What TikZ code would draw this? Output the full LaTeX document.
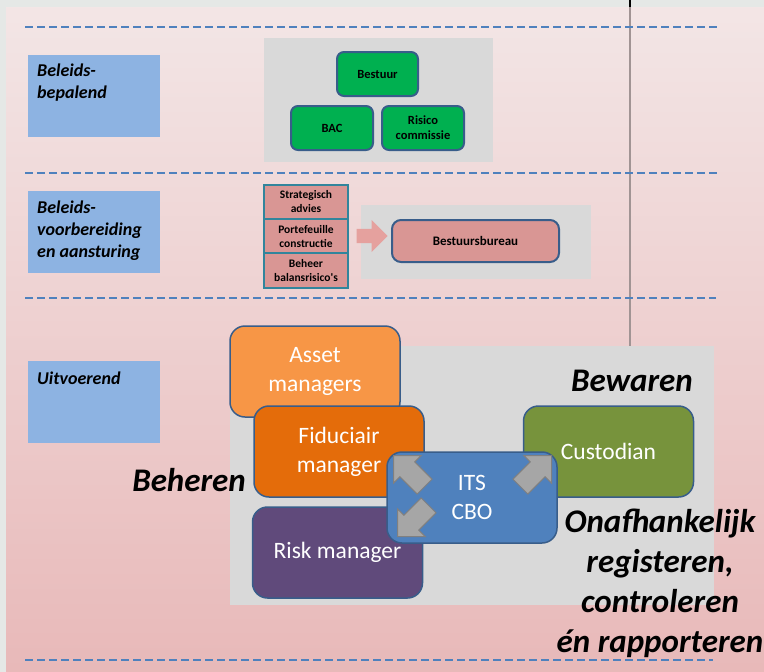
\documentclass[tikz,border=0pt]{standalone}
\usepackage{fontspec}
\setmainfont{Carlito}
\usetikzlibrary{positioning}
\usetikzlibrary{shapes.arrows}
\definecolor{bgtop}{rgb}{0.953, 0.902, 0.902}
\definecolor{bgbot}{rgb}{0.910, 0.725, 0.725}
\definecolor{stripgray}{rgb}{0.898, 0.910, 0.902}
\definecolor{lblue}{rgb}{0.553, 0.702, 0.886}
\definecolor{panelgray}{rgb}{0.851, 0.851, 0.851}
\definecolor{sepblue}{rgb}{0.31, 0.506, 0.741}
\definecolor{boxborder}{rgb}{0.22, 0.365, 0.541}
\definecolor{mgreen}{rgb}{0.0, 0.69, 0.314}
\definecolor{mpink}{rgb}{0.851, 0.588, 0.58}
\definecolor{mteal}{rgb}{0.192, 0.522, 0.612}
\definecolor{morange}{rgb}{0.969, 0.588, 0.275}
\definecolor{mdorange}{rgb}{0.894, 0.424, 0.039}
\definecolor{mpurple}{rgb}{0.376, 0.29, 0.482}
\definecolor{molive}{rgb}{0.467, 0.576, 0.235}
\definecolor{mblue}{rgb}{0.31, 0.506, 0.741}
\definecolor{vline}{rgb}{0.63, 0.58, 0.58}
\definecolor{arrowpink}{rgb}{0.90, 0.63, 0.62}
\tikzset{labelbox/.style = {fill=lblue, minimum width=132pt, minimum height=82pt,
                            anchor=north west, inner sep=0pt}}
\tikzset{labeltext/.style = {font=\fontsize{18}{22}\selectfont\bfseries\itshape,
                             align=left, anchor=north west, inner sep=0pt}}
\tikzset{panel/.style = {fill=panelgray, anchor=north west, inner sep=0pt}}
\tikzset{smallbox/.style = {draw=boxborder, line width=2pt, rounded corners=7pt,
                            font=\fontsize{12.5}{15}\selectfont\bfseries,
                            align=center, inner sep=0pt}}
\tikzset{stackbox/.style = {fill=mpink, draw=mteal, line width=2pt, outer sep=0pt,
                            minimum width=84pt, minimum height=34.3pt,
                            font=\fontsize{11.5}{14}\selectfont\bfseries,
                            align=center, inner sep=0pt}}
\tikzset{bigbox/.style = {draw=boxborder, line width=1.5pt, rounded corners=15pt,
                          text=white, font=\fontsize{23.5}{29}\selectfont, align=center,
                          minimum width=170pt, minimum height=91pt, inner sep=0pt}}
\tikzset{grayarrow/.style = {single arrow, fill=black!35, draw=black!50, line width=1pt,
                             inner sep=10pt, single arrow head extend=9pt,
                             minimum height=44pt, anchor=tip}}
\tikzset{sepline/.style = {draw=sepblue, line width=2pt, dash pattern=on 8pt off 4pt}}
\tikzset{bigword/.style = {font=\fontsize{33}{40}\selectfont\bfseries\itshape,
                           align=center, inner sep=0pt}}

\begin{document}
\begin{tikzpicture}[x=1pt, y=-1pt]
  \useasboundingbox (0,0) rectangle (764,672);
  \shade [top color=bgtop, bottom color=bgbot] (0,0) rectangle (764,672);
  \fill [stripgray] (0,0) rectangle (764,7);
  \fill [stripgray] (0,7) rectangle (6,672);
  \draw [vline, line width=1.3pt] (630,7) -- (630,347);
  \draw [black, line width=1.3pt] (630,0) -- (630,7);

  \draw [sepline] (25,27) -- (717,27);
  \draw [sepline] (25,173) -- (717,173);
  \draw [sepline] (25,298) -- (716,298);
  \draw [sepline] (25,660) -- (713,660);

  \node [labelbox] (polbox) at (28,55) {};
  \node [labeltext] (poltext) at ([xshift=9pt, yshift=-9pt] polbox.north west) {Beleids-\\bepalend};
  \node [labelbox] (prepbox) at (28,191) {};
  \node [labeltext] (preptext) at ([xshift=9pt, yshift=-10pt] prepbox.north west) {Beleids-\\voorbereiding\\en aansturing};
  \node [labelbox] (execbox) at (28,361) {};
  \node [labeltext] (exectext) at ([xshift=9pt, yshift=-11pt] execbox.north west) {Uitvoerend};

  \node [panel, minimum width=229pt, minimum height=124pt] (toppanel) at (264,38) {};
  \node [smallbox, fill=mgreen, minimum width=81pt, minimum height=44pt] (bestuur) at (377.5,74) {Bestuur};
  \node [smallbox, fill=mgreen, minimum width=82pt, minimum height=44pt] (bac) at (332,128) {BAC};
  \node [smallbox, fill=mgreen, minimum width=82pt, minimum height=44pt] (risico) at (423,128) {Risico\\commissie};

  \node [panel, minimum width=230pt, minimum height=74pt] (midpanel) at (361,205) {};
  \node [stackbox] (advies) at (306,202) {Strategisch\\advies};
  \node [stackbox, below=0pt of advies] (portef) {Portefeuille\\constructie};
  \node [stackbox, below=0pt of portef] (balans) {Beheer\\balansrisico\textquotesingle s};
  \node [single arrow, fill=arrowpink, inner sep=7pt, single arrow head extend=9pt,
         minimum height=31pt, anchor=tip] (pinkarrow) at (388,236) {};
  \node [smallbox, fill=mpink, minimum width=167pt, minimum height=42pt, rounded corners=9pt,
         font=\fontsize{13}{15}\selectfont\bfseries] (bureau) at (475.5,241) {Bestuursbureau};

  \node [panel, minimum width=484pt, minimum height=259pt] (lowpanel) at (230,346) {};
  \node [bigbox, fill=morange] (asset) at (315,371.5) {Asset\\managers};
  \node [bigbox, fill=mdorange] (fidu) at (339,451.5) {Fiduciair\\manager};
  \node [bigbox, fill=mpurple] (risk) at (337.5,552.5) {Risk manager};
  \node [bigbox, fill=molive] (custo) at (608.5,451.5) {Custodian};
  \node [bigbox, fill=mblue] (its) at (472,497.5) {ITS\\CBO};
  \node [grayarrow, rotate=135] (arrfidu) at (393,455) {};
  \node [grayarrow, rotate=225] (arrrisk) at (397,537) {};
  \node [grayarrow, rotate=45] (arrcusto) at (552,455) {};

  \node [bigword, anchor=base east] (bewaren) at (693,391) {Bewaren};
  \node [bigword, anchor=base east] (beheren) at (246,491) {Beheren};
  \node [bigword, anchor=north] (onafh) at (660,509) {Onafhankelijk\\registeren,\\controleren\\én rapporteren};
\end{tikzpicture}
\end{document}
